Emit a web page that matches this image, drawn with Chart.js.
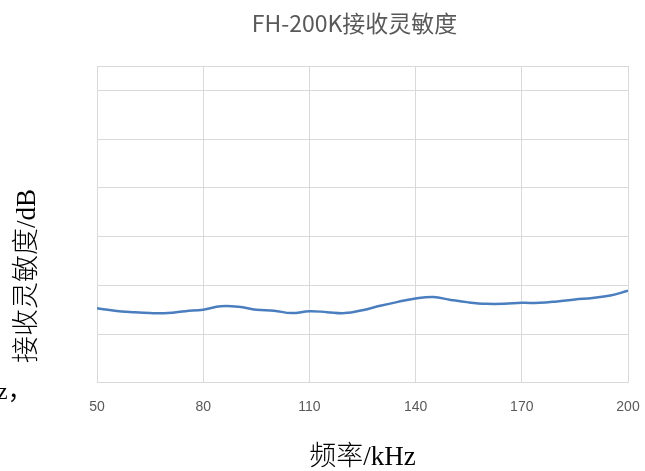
<!DOCTYPE html>
<html>
<head>
<meta charset="utf-8">
<script src="https://cdn.jsdelivr.net/npm/chart.js@4/dist/chart.umd.min.js"></script>
<style>
    html, body { margin: 0; padding: 0; background: #fff; }
    #wrap { width: 645px; height: 471px; position: relative; }
</style>
</head>
<body>
<div id="wrap"><canvas id="sensChart"></canvas></div>
<script>
// 频率 (kHz) and 接收灵敏度 (dB)
const freqs = [50, 55, 60, 65, 70, 75, 80, 85, 90, 95, 100, 105, 110, 115, 120, 125,
    130, 135, 140, 145, 150, 155, 160, 165, 170, 175, 180, 185, 190, 195, 200];
const sensitivity = [-204.7, -205.2, -205.5, -205.7, -205.7, -205.3, -205.0, -204.3, -204.4, -205.0,
    -205.2, -205.7, -205.3, -205.5, -205.7, -205.1, -204.2, -203.4, -202.7, -202.4,
    -203.0, -203.5, -203.8, -203.8, -203.6, -203.6, -203.3, -202.9, -202.6, -202.1, -201.1];
const xTicks = [50, 80, 110, 140, 170, 200];
const yTicks = [-220, -210, -200, -190, -180, -170, -160, -155];

const chartTitle = 'FH-200K接收灵敏度';
const xTitle = '频率/kHz';
const yTitle = '接收灵敏度/dB';

const gridColor = '#d9d9d9';

// title, rotated y title and the stray text cut from the page
const chartText = {
    id: 'chartText',
    afterDraw(chart) {
        const ctx = chart.ctx;
        const area = chart.chartArea;
        ctx.save();
        ctx.fillStyle = '#595959';
        ctx.font = '23px "Liberation Sans Narrow", "Noto Sans CJK SC", sans-serif';
        ctx.textAlign = 'center';
        ctx.textBaseline = 'middle';
        ctx.fillText(chartTitle, (area.left + area.right) / 2 - 8, 23);

        ctx.fillStyle = '#000';
        ctx.font = '300 27px "Liberation Serif", "Noto Sans CJK SC", serif';
        ctx.translate(28, 276);
        ctx.rotate(-Math.PI / 2);
        ctx.fillText(yTitle, 0, 0);
        ctx.restore();

        ctx.save();
        ctx.fillStyle = '#000';
        ctx.font = '24px "Liberation Serif", "Noto Sans CJK SC", serif';
        ctx.textBaseline = 'alphabetic';
        ctx.fillText('z，', -3, 399);
        ctx.restore();
    }
};

new Chart(document.getElementById('sensChart').getContext('2d'), {
    type: 'line',
    data: {
        datasets: [{
            label: yTitle,
            data: freqs.map((f, i) => ({ x: f, y: sensitivity[i] })),
            borderColor: '#4a7ebf',
            borderWidth: 2.5,
            pointRadius: 0,
            tension: 0.4,
            fill: false
        }]
    },
    options: {
        responsive: true,
        maintainAspectRatio: false,
        animation: false,
        layout: { padding: { left: 97, right: 17, top: 66, bottom: 0 } },
        plugins: {
            legend: { display: false },
            tooltip: { enabled: false }
        },
        scales: {
            x: {
                type: 'linear',
                min: 50,
                max: 200,
                afterBuildTicks: scale => { scale.ticks = xTicks.map(v => ({ value: v })); },
                // invisible tick marks push the labels down without widening the side padding
                grid: { color: gridColor, drawTicks: true, tickLength: 14, tickColor: 'rgba(0,0,0,0)' },
                border: { color: gridColor },
                ticks: {
                    padding: 2,
                    color: '#595959',
                    font: { family: '"Liberation Sans Narrow", "Liberation Sans", sans-serif', size: 14 }
                },
                title: {
                    display: true,
                    text: xTitle,
                    color: '#000',
                    padding: { top: 24, bottom: -3 },
                    font: { family: '"Liberation Serif", "Noto Sans CJK SC", serif', size: 27, weight: 300 }
                }
            },
            y: {
                min: -220,
                max: -155,
                afterBuildTicks: scale => { scale.ticks = yTicks.map(v => ({ value: v })); },
                grid: { color: gridColor, drawTicks: false },
                border: { color: gridColor },
                ticks: { display: false }
            }
        }
    },
    plugins: [chartText]
});
</script>
</body>
</html>
